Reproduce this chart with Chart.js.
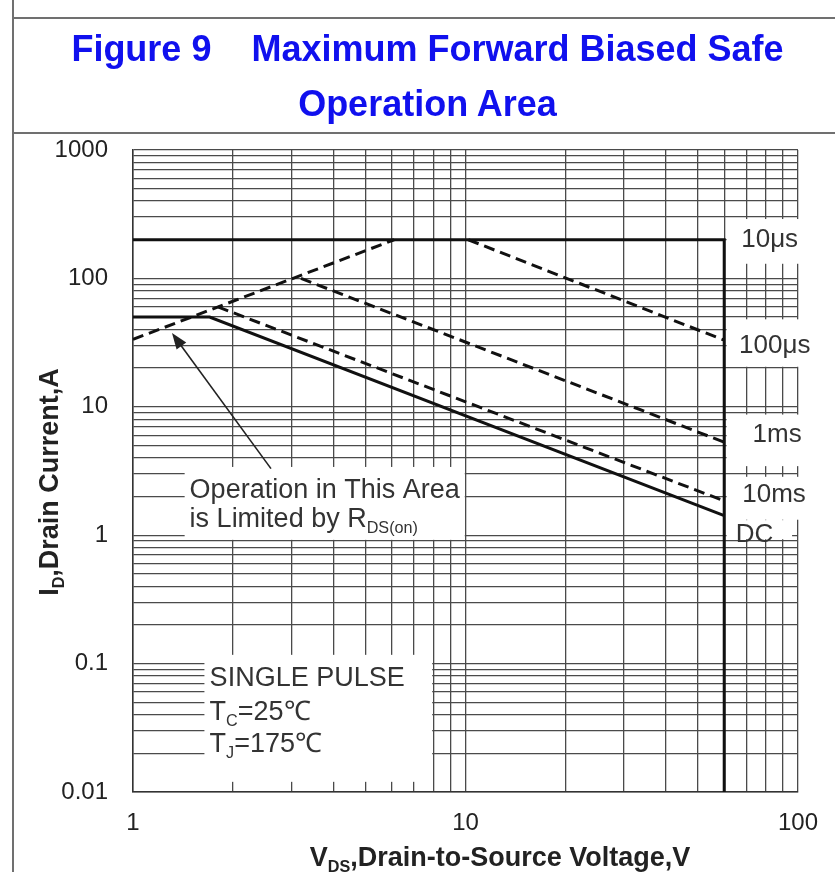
<!DOCTYPE html>
<html lang="en">
<head>
<meta charset="UTF-8" />
<title>Maximum Forward Biased Safe Operation Area</title>
<script src="https://cdn.jsdelivr.net/npm/chart.js@4.4.1/dist/chart.umd.min.js"></script>
<style>
	body { margin: 0; background: #fff; }
	.page { position: relative; width: 835px; height: 872px; overflow: hidden; }
	canvas { position: absolute; left: 0; top: 0; }
	.frame-v { position: absolute; left: 12px; top: 0; width: 2px; height: 872px; background: #707070; }
	.frame-h { position: absolute; left: 12px; right: 0; height: 2px; background: #707070; }
	.title {
		position: absolute;
		left: 20px;
		width: 815px;
		text-align: center;
		font: bold 36px "Liberation Sans", Arial, sans-serif;
		line-height: 36px;
		color: #1010ee;
		white-space: pre;
	}
</style>
</head>
<body>
<div class="page">
	<canvas id="soa" width="835" height="872"></canvas>
	<div class="frame-v"></div>
	<div class="frame-h" style="top: 17px"></div>
	<div class="frame-h" style="top: 132px"></div>
	<div class="title" style="top: 31px">Figure 9    Maximum Forward Biased Safe</div>
	<div class="title" style="top: 86px">Operation Area</div>
</div>
<script>
// axis tick labels (decades)
const xTickLabels = [1, 10, 100]
const yTickLabels = [0.01, 0.1, 1, 10, 100, 1000]

// SOA boundaries, VDS in V and ID in A
const vds10us = [1, 60, 60]
const id10us = [200, 200, 0.01]
const vdsRds = [1, 6.1]
const idRds = [33.5, 200]
const vds100us = [10.2, 60]
const id100us = [200, 33]
const vds1ms = [3.2, 60]
const id1ms = [100, 5.3]
const vds10ms = [1.8, 60]
const id10ms = [60, 1.85]
const vdsDC = [1, 1.7, 60]
const idDC = [50, 50, 1.42]

// curve names at the right edge
const curveNames = ['10μs', '100μs', '1ms', '10ms', 'DC']
const curveNameVds = [67.5, 66.5, 73, 68, 65]
const curveNameId = [200, 30, 6, 2.05, 1]

const FONT = '"Liberation Sans", Arial, sans-serif'

// log grid: 1..9 in each decade
function gridValues(decades) {
	const out = []
	decades.forEach((d, i) => {
		if (i === decades.length - 1) {
			out.push(d)
			return
		}
		for (let k = 1; k < 10; k++) out.push(+(d * k).toPrecision(2))
	})
	return out
}

const pts = (xs, ys) => xs.map((v, i) => ({ x: v, y: ys[i] }))

function curve(label, xs, ys, dashed) {
	return {
		label,
		data: pts(xs, ys),
		showLine: true,
		borderColor: '#111',
		borderWidth: 3,
		borderDash: dashed ? [11, 6] : [],
		pointRadius: 0,
		fill: false,
		tension: 0,
	}
}

// white boxes behind the notes, [vdsMin, vdsMax, idMin, idMax]
const noteBoxes = [
	[1.43, 9.95, 0.92, 3.4],
	[1.64, 7.94, 0.012, 0.117],
	[61, 106, 130, 290],
	[61, 106, 20.5, 48],
	[61, 106, 3.45, 8.7],
	[61, 106, 1.32, 2.85],
	[61, 96, 0.93, 1.31],
]

// arrow tail -> tip
const arrowVds = [2.6, 1.31]
const arrowId = [3.3, 37.5]

// text parts: {t, sub}
function drawRich(ctx, parts, x, y, size, weight) {
	let cx = x
	parts.forEach(p => {
		const s = p.sub ? size * 0.6 : size
		ctx.font = `${weight} ${s}px ${FONT}`
		ctx.fillText(p.t, cx, p.sub ? y + size * 0.22 : y)
		cx += ctx.measureText(p.t).width
	})
}

function richWidth(ctx, parts, size, weight) {
	let w = 0
	parts.forEach(p => {
		ctx.font = `${weight} ${p.sub ? size * 0.6 : size}px ${FONT}`
		w += ctx.measureText(p.t).width
	})
	return w
}

const notes = [
	{ vds: 1.48, id: 1.95, parts: [{ t: 'Operation in This Area' }] },
	{ vds: 1.48, id: 1.16, parts: [{ t: 'is Limited by R' }, { t: 'DS(on)', sub: true }] },
	{ vds: 1.7, id: 0.067, parts: [{ t: 'SINGLE PULSE' }] },
	{ vds: 1.7, id: 0.0364, parts: [{ t: 'T' }, { t: 'C', sub: true }, { t: '=25℃' }] },
	{ vds: 1.7, id: 0.0205, parts: [{ t: 'T' }, { t: 'J', sub: true }, { t: '=175℃' }] },
]

const decor = {
	id: 'decor',
	beforeDatasetsDraw(chart) {
		const { ctx, scales: { x, y } } = chart
		ctx.save()
		ctx.fillStyle = '#fff'
		noteBoxes.forEach(b => {
			const x0 = x.getPixelForValue(b[0])
			const x1 = x.getPixelForValue(b[1])
			const y0 = y.getPixelForValue(b[3])
			const y1 = y.getPixelForValue(b[2])
			ctx.fillRect(x0, y0, x1 - x0, y1 - y0)
		})
		ctx.restore()
	},
	afterDraw(chart) {
		const { ctx, scales: { x, y } } = chart
		ctx.save()

		// arrow to the RDS(on) line
		const tx = x.getPixelForValue(arrowVds[0]), ty = y.getPixelForValue(arrowId[0])
		const hx = x.getPixelForValue(arrowVds[1]), hy = y.getPixelForValue(arrowId[1])
		const ang = Math.atan2(hy - ty, hx - tx)
		ctx.strokeStyle = '#222'
		ctx.fillStyle = '#222'
		ctx.lineWidth = 1.6
		ctx.beginPath()
		ctx.moveTo(tx, ty)
		ctx.lineTo(hx - 10 * Math.cos(ang), hy - 10 * Math.sin(ang))
		ctx.stroke()
		ctx.beginPath()
		ctx.moveTo(hx, hy)
		ctx.lineTo(hx - 16 * Math.cos(ang) + 6 * Math.sin(ang), hy - 16 * Math.sin(ang) - 6 * Math.cos(ang))
		ctx.lineTo(hx - 16 * Math.cos(ang) - 6 * Math.sin(ang), hy - 16 * Math.sin(ang) + 6 * Math.cos(ang))
		ctx.closePath()
		ctx.fill()

		// notes
		ctx.fillStyle = '#333'
		ctx.textBaseline = 'alphabetic'
		ctx.textAlign = 'left'
		notes.forEach(n => {
			drawRich(ctx, n.parts, x.getPixelForValue(n.vds), y.getPixelForValue(n.id), 27, 'normal')
		})

		// curve names
		ctx.textBaseline = 'middle'
		ctx.font = `26px ${FONT}`
		curveNames.forEach((name, i) => {
			ctx.fillText(name, x.getPixelForValue(curveNameVds[i]), y.getPixelForValue(curveNameId[i]))
		})

		// axis titles
		ctx.fillStyle = '#222'
		ctx.textBaseline = 'alphabetic'
		const xTitle = [{ t: 'V' }, { t: 'DS', sub: true }, { t: ',Drain-to-Source Voltage,V' }]
		const xw = richWidth(ctx, xTitle, 27, 'bold')
		drawRich(ctx, xTitle, 500 - xw / 2, 866, 27, 'bold')

		const yTitle = [{ t: 'I' }, { t: 'D', sub: true }, { t: ',Drain Current,A' }]
		const yw = richWidth(ctx, yTitle, 27, 'bold')
		ctx.translate(58, 482)
		ctx.rotate(-Math.PI / 2)
		drawRich(ctx, yTitle, -yw / 2, 0, 27, 'bold')

		ctx.restore()
	},
}

const xGrid = gridValues(xTickLabels)
const yGrid = gridValues(yTickLabels)

new Chart(document.getElementById('soa'), {
	type: 'scatter',
	data: {
		datasets: [
			curve('10μs', vds10us, id10us, false),
			curve('RDS(on) limit', vdsRds, idRds, true),
			curve('100μs', vds100us, id100us, true),
			curve('1ms', vds1ms, id1ms, true),
			curve('10ms', vds10ms, id10ms, true),
			curve('DC', vdsDC, idDC, false),
		],
	},
	options: {
		responsive: false,
		animation: false,
		devicePixelRatio: 1,
		layout: { padding: { top: 150, right: 35, bottom: 0, left: 0 } },
		plugins: { legend: { display: false }, title: { display: false }, tooltip: { enabled: false } },
		scales: {
			x: {
				type: 'logarithmic',
				min: 1,
				max: 100,
				afterBuildTicks: a => { a.ticks = xGrid.map(v => ({ value: v })) },
				afterFit: a => { a.height = 80 },
				grid: { color: '#4a4a4a', lineWidth: 1.3, drawTicks: false },
				border: { color: '#333', width: 1.5 },
				ticks: {
					autoSkip: false,
					maxRotation: 0,
					padding: 17,
					color: '#222',
					font: { family: FONT, size: 24 },
					callback: v => (xTickLabels.includes(v) ? String(v) : ''),
				},
			},
			y: {
				type: 'logarithmic',
				min: 0.01,
				max: 1000,
				afterBuildTicks: a => { a.ticks = yGrid.map(v => ({ value: v })) },
				afterFit: a => { a.width = 133 },
				grid: { color: '#4a4a4a', lineWidth: 1.3, drawTicks: false },
				border: { color: '#333', width: 1.5 },
				ticks: {
					autoSkip: false,
					padding: 25,
					color: '#222',
					font: { family: FONT, size: 24 },
					callback: v => (yTickLabels.includes(v) ? String(v) : ''),
				},
			},
		},
	},
	plugins: [decor],
})
</script>
</body>
</html>
